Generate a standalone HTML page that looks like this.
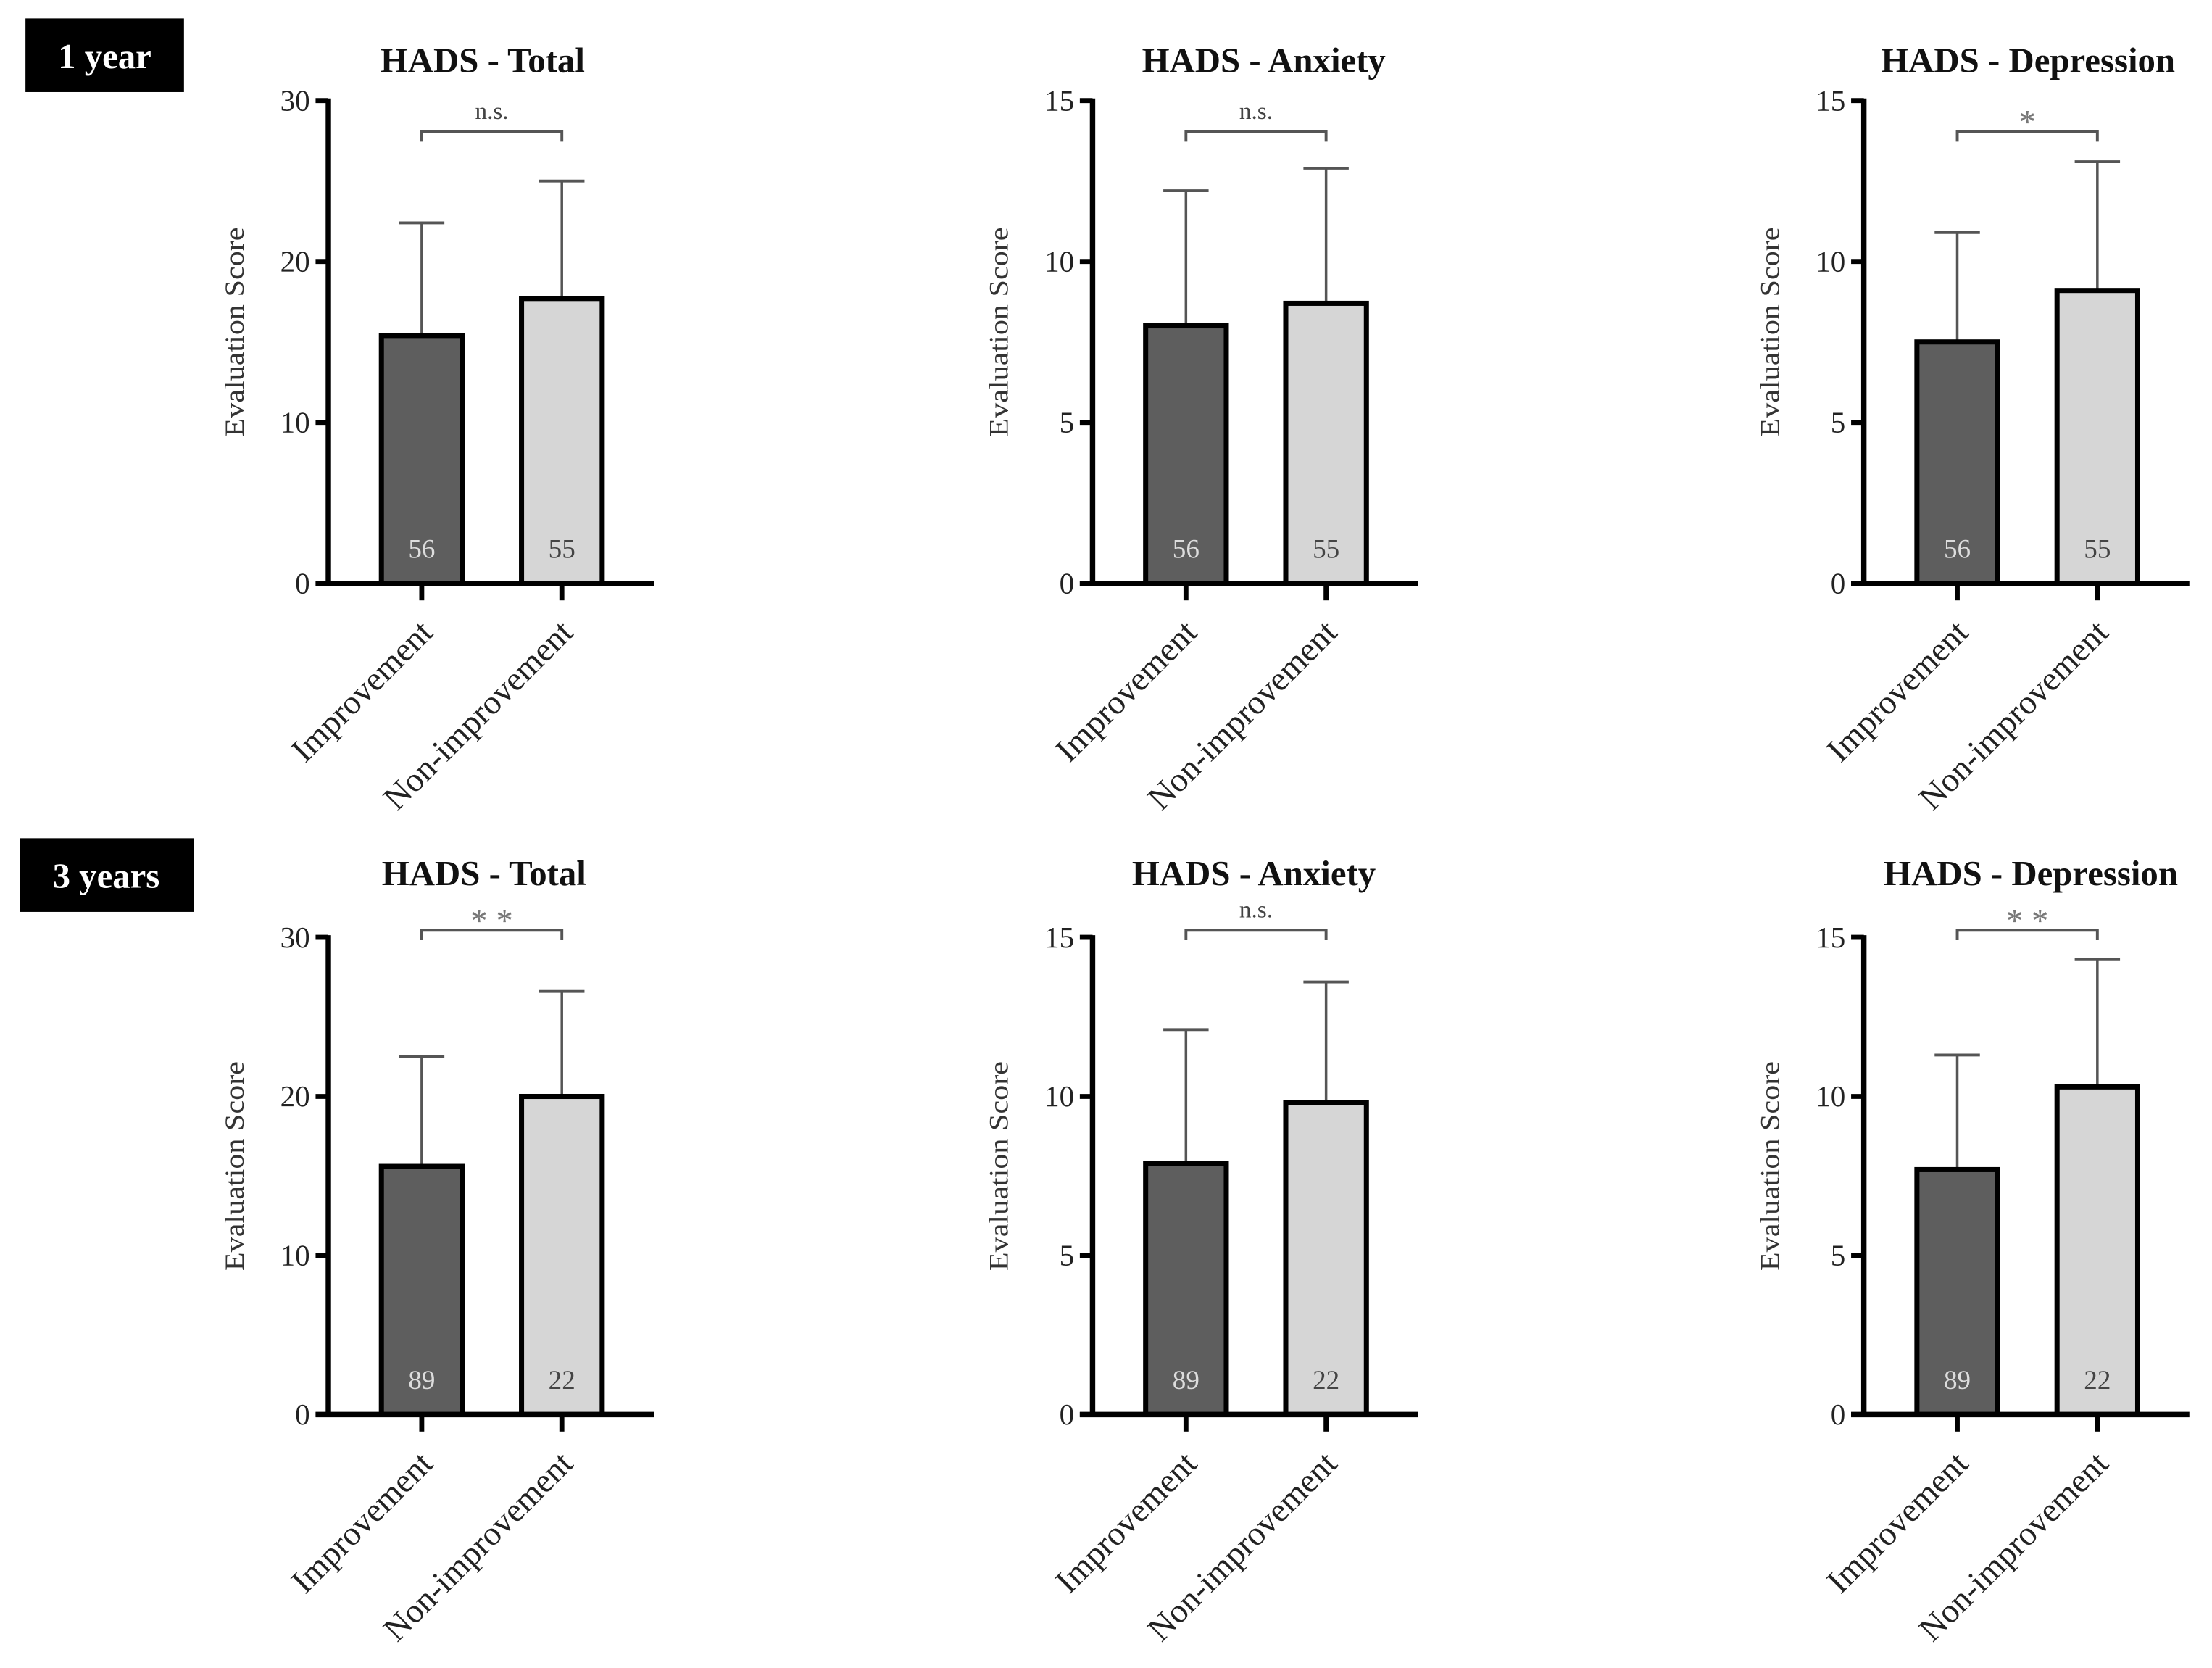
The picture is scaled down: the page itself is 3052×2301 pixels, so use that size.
<!DOCTYPE html>
<html><head><meta charset="utf-8"><style>
html,body{margin:0;padding:0;background:#fff;}
svg{display:block;}
text{font-family:"Liberation Serif",serif;}
</style></head><body>
<svg id="fig" width="3052" height="2301" viewBox="0 0 1563 1178" preserveAspectRatio="none" xmlns="http://www.w3.org/2000/svg">
<g><rect x="18" y="13" width="112" height="52" fill="#000"/><text x="74" y="48" font-size="25" font-weight="bold" fill="#fff" text-anchor="middle">1 year</text></g>
<g><rect x="14" y="592" width="123" height="52" fill="#000"/><text x="75" y="627" font-size="25" font-weight="bold" fill="#fff" text-anchor="middle">3 years</text></g>
</svg>
<script>
const titles = ["HADS - Total","HADS - Anxiety","HADS - Depression","HADS - Total","HADS - Anxiety","HADS - Depression"];
const categories = ["Improvement","Non-improvement"];
const yMax = [30,15,15,30,15,15];
const tickLabels30 = [0,10,20,30];
const tickLabels15 = [0,5,10,15];
const meanImp = [15.4,8.0,7.5,15.6,7.9,7.7];
const meanNon = [17.7,8.7,9.1,20.0,9.8,10.3];
const sdTopImp = [22.4,12.2,10.9,22.5,12.1,11.3];
const sdTopNon = [25.0,12.9,13.1,26.6,13.6,14.3];
const countImp = ["56","56","56","89","89","89"];
const countNon = ["55","55","55","22","22","22"];
const signif = ["n.s.","n.s.","*","* *","n.s.","* *"];

const NS="http://www.w3.org/2000/svg";
const svg=document.getElementById('fig');
function mk(tag,attrs,parent){const e=document.createElementNS(NS,tag);for(const k in attrs)e.setAttribute(k,attrs[k]);(parent||svg).appendChild(e);return e;}
const axX=[232,772,1317];
const titleX=[[341,893,1433],[342,886,1435]];
const rows=[{top:71,bot:412,title:51,brk:93},{top:662,bot:999,title:625,brk:657}];
for(let i=0;i<6;i++){
  const ri=Math.floor(i/3), r=rows[ri], ax=axX[i%3];
  const g=mk('g',{});
  
  
  const y=v=>r.bot-(v/yMax[i])*(r.bot-r.top);
  const cx=[ax+66,ax+165];
  const t=mk('text',{x:titleX[ri][i%3],y:r.title,'font-size':25,'font-weight':'bold','text-anchor':'middle',fill:'#111'},g);
  t.textContent=titles[i];
  
  
  const yl=mk('text',{x:0,y:0,'font-size':19,'text-anchor':'middle',fill:'#333',textLength:148,lengthAdjust:'spacingAndGlyphs',transform:`translate(${ax-60},${(r.top+r.bot)/2-7}) rotate(-90)`},g);
  yl.textContent='Evaluation Score';
  
  
  const ticks=yMax[i]==30?tickLabels30:tickLabels15;
  ticks.forEach(v=>{
    mk('line',{x1:ax-9,x2:ax,y1:y(v),y2:y(v),stroke:'#000','stroke-width':3.5},g);
    const tl=mk('text',{x:ax-13,y:y(v)+7,'font-size':21,'text-anchor':'end',fill:'#222'},g);
    tl.textContent=v;
    
    
  });
  const means=[meanImp[i],meanNon[i]], tops=[sdTopImp[i],sdTopNon[i]], counts=[countImp[i],countNon[i]];
  for(let b=0;b<2;b++){
    const eb=mk('line',{x1:cx[b],x2:cx[b],y1:y(tops[b]),y2:y(means[b]),stroke:'#555','stroke-width':1.8},g);
    
    
    mk('line',{x1:cx[b]-16,x2:cx[b]+16,y1:y(tops[b]),y2:y(tops[b]),stroke:'#555','stroke-width':2},g);
    const rect=mk('rect',{x:cx[b]-28.5,y:y(means[b]),width:57,height:r.bot-y(means[b]),fill:b?'#d6d6d6':'#5e5e5e',stroke:'#000','stroke-width':3.6},g);
    
    
    const ct=mk('text',{x:cx[b],y:r.bot-18,'font-size':19,'text-anchor':'middle',fill:b?'#444':'#ddd'},g);
    ct.textContent=counts[b];
    
    
    mk('line',{x1:cx[b],x2:cx[b],y1:r.bot,y2:r.bot+12,stroke:'#000','stroke-width':3.5},g);
    const xl=mk('text',{x:0,y:0,'font-size':24,'text-anchor':'end',fill:'#222',transform:`translate(${cx[b]+9},${r.bot+36}) rotate(-45)`},g);
    xl.textContent=categories[b];
    
    
  }
  mk('line',{x1:ax,x2:ax,y1:r.top-1.5,y2:r.bot+1.5,stroke:'#000','stroke-width':3.8},g);
  mk('line',{x1:ax-9,x2:ax+230,y1:r.bot,y2:r.bot,stroke:'#000','stroke-width':3.8},g);
  const by=r.brk;
  const br=mk('path',{d:`M${cx[0]},${by+7} V${by} H${cx[1]} V${by+7}`,fill:'none',stroke:'#555','stroke-width':2},g);
  
  
  const st=mk('text',{x:(cx[0]+cx[1])/2,y:signif[i]=='n.s.'?by-9:by+1,'font-size':signif[i]=='n.s.'?17:24,'text-anchor':'middle',fill:signif[i]=='n.s.'?'#444':'#777'},g);
  st.textContent=signif[i];
  
  
}
</script>
</body></html>
